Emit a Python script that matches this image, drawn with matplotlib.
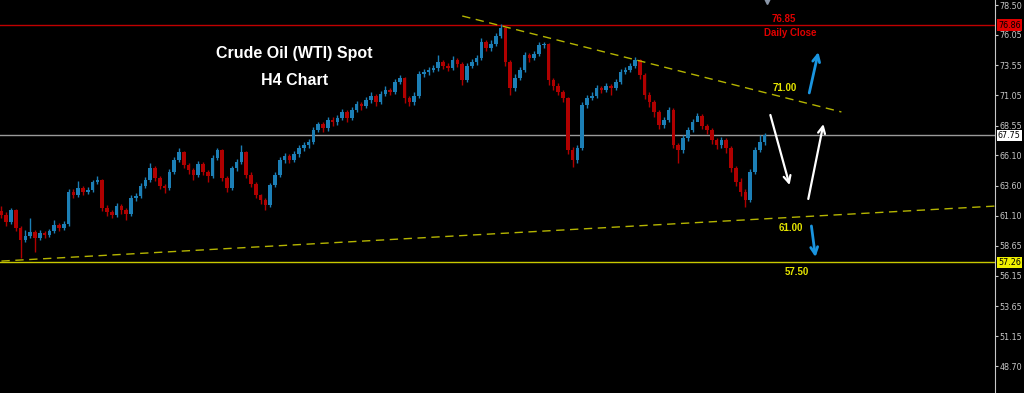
import numpy as np
import matplotlib
matplotlib.use("Agg")
import matplotlib.pyplot as plt
import matplotlib.transforms as mtransforms

# H4 candles (open = previous close)
first_open = 61.50
closes = [61.18, 60.60, 61.59, 60.11, 59.12, 59.45, 59.78, 59.28, 59.69, 59.53,
          59.86, 60.35, 60.11, 60.44, 63.08, 62.83, 63.41, 63.08, 63.25, 63.91,
          64.07, 61.76, 61.43, 61.18, 61.92, 61.59, 61.26, 62.58, 62.75, 63.58,
          64.07, 65.06, 64.24, 63.58, 63.41, 64.73, 65.72, 66.38, 65.31, 64.90,
          64.49, 65.39, 64.73, 64.40, 65.89, 66.55, 64.24, 63.41, 65.06, 65.56,
          66.38, 64.49, 63.74, 62.83, 62.42, 62.01, 63.66, 64.49, 65.72, 66.05,
          65.72, 66.22, 66.71, 66.96, 67.21, 68.20, 68.70, 68.37, 69.03, 68.86,
          69.19, 69.69, 69.19, 69.85, 70.35, 70.18, 70.68, 71.01, 70.51, 71.18,
          71.51, 71.34, 72.17, 72.50, 70.85, 70.51, 71.01, 72.83, 72.99, 73.16,
          73.32, 73.82, 73.49, 73.32, 73.98, 73.65, 72.33, 73.49, 73.82, 74.15,
          75.47, 74.98, 75.31, 75.97, 76.63, 73.82, 71.67, 72.50, 73.16, 74.40,
          74.15, 74.48, 75.22, 75.31, 72.33, 71.84, 71.34, 70.85, 66.55, 65.72,
          66.71, 70.27, 70.85, 71.01, 71.67, 71.51, 71.84, 71.67, 72.17, 72.99,
          73.16, 73.49, 73.98, 72.74, 71.09, 70.51, 69.69, 68.62, 69.03, 69.85,
          66.96, 66.55, 67.54, 68.20, 68.86, 69.36, 68.53, 68.20, 67.38, 66.96,
          67.38, 66.71, 65.06, 63.91, 63.08, 62.42, 64.73, 66.55, 67.20, 67.75]
highs = [61.95, 61.40, 61.75, 61.70, 60.30, 59.95, 60.95, 59.95, 59.90, 59.85,
         60.05, 60.75, 60.50, 60.70, 63.30, 63.35, 63.95, 63.55, 63.45, 64.10,
         64.40, 64.15, 62.00, 61.60, 62.15, 62.05, 61.75, 62.80, 63.00, 63.80,
         64.30, 65.48, 65.20, 64.40, 63.75, 64.95, 65.95, 66.70, 66.50, 65.50,
         65.05, 65.60, 65.55, 64.90, 66.10, 66.72, 66.60, 64.40, 65.25, 65.80,
         66.95, 66.50, 64.70, 63.90, 62.95, 62.55, 63.85, 64.70, 65.95, 66.30,
         66.20, 66.45, 66.95, 67.20, 67.45, 68.45, 68.87, 68.85, 69.25, 69.30,
         69.45, 69.95, 69.85, 70.10, 70.60, 70.55, 70.90, 71.30, 71.15, 71.40,
         71.80, 71.70, 72.40, 72.75, 72.60, 71.00, 71.30, 73.05, 73.25, 73.40,
         73.60, 74.40, 74.00, 73.70, 74.30, 74.15, 73.80, 73.70, 74.05, 74.40,
         75.80, 75.65, 75.60, 76.20, 76.97, 76.75, 74.00, 72.80, 73.40, 74.65,
         74.60, 74.70, 75.45, 75.50, 75.40, 72.50, 72.05, 71.50, 70.90, 66.80,
         67.00, 70.50, 71.10, 71.30, 71.90, 71.85, 72.10, 72.00, 72.40, 73.25,
         73.40, 73.75, 74.25, 74.10, 72.90, 71.30, 70.70, 69.85, 69.30, 70.10,
         70.00, 67.10, 67.80, 68.45, 69.10, 69.60, 69.50, 68.70, 68.40, 67.55,
         67.60, 67.55, 66.90, 65.20, 64.20, 63.30, 64.95, 66.80, 67.80, 67.95]
lows = [60.90, 60.30, 60.45, 59.85, 57.60, 58.95, 59.30, 58.10, 59.10, 59.25,
        59.35, 59.70, 59.85, 59.95, 60.30, 62.55, 62.70, 62.85, 62.90, 63.10,
        63.75, 61.50, 61.10, 60.95, 61.00, 61.30, 60.75, 61.10, 62.35, 62.60,
        63.40, 63.90, 64.00, 63.30, 63.00, 63.25, 64.55, 65.55, 65.05, 64.55,
        64.10, 64.30, 64.45, 63.90, 64.25, 65.70, 64.00, 63.08, 63.25, 64.85,
        65.40, 64.25, 63.45, 62.55, 62.10, 61.60, 61.85, 63.45, 64.30, 65.50,
        65.45, 65.55, 66.00, 66.45, 66.75, 67.05, 68.00, 68.00, 68.15, 68.55,
        68.65, 69.00, 68.85, 69.00, 69.65, 69.85, 70.00, 70.45, 70.20, 70.35,
        71.00, 71.05, 71.15, 72.00, 70.40, 70.20, 70.30, 70.85, 72.60, 72.75,
        72.95, 73.10, 73.20, 73.05, 73.15, 73.40, 71.90, 72.15, 73.30, 73.60,
        74.00, 74.70, 74.75, 75.10, 75.80, 73.50, 71.10, 71.40, 72.30, 73.00,
        73.85, 73.95, 74.30, 75.00, 71.95, 71.50, 71.05, 70.50, 66.20, 65.15,
        65.45, 66.55, 70.00, 70.65, 70.85, 71.25, 71.30, 71.10, 71.50, 72.00,
        72.80, 72.95, 73.30, 72.45, 70.80, 70.10, 69.30, 68.25, 68.40, 68.85,
        66.70, 65.50, 66.30, 67.30, 68.00, 69.10, 68.30, 67.90, 67.05, 66.60,
        66.75, 66.30, 64.75, 63.55, 62.75, 61.85, 62.25, 64.55, 66.35, 66.95]

price_ticks = [78.50, 76.05, 73.55, 71.05, 68.55, 66.10, 63.60, 61.10,
               58.65, 56.15, 53.65, 51.15, 48.70]
daily_close = 76.86
last_price = 67.75
support_low = 57.26

# trendlines / arrows (candle index, price)
resist_line = ([96.0, 175.0], [77.62, 69.69])
support_line = ([0.0, 207.3], [57.37, 61.92])

BG = "black"
UP = "#1c7fb6"
DOWN = "#b00000"
YEL = "#e6e600"

opens = np.array([first_open] + closes[:-1])
closes = np.array(closes)
highs = np.array(highs)
lows = np.array(lows)
idx = np.arange(len(closes))
up = closes >= opens
cols = np.where(up, UP, DOWN)

fig = plt.figure(figsize=(10.24, 3.93), dpi=100, facecolor=BG)
ax = fig.add_axes([0, 0, 995 / 1024, 1])
ax.set_facecolor(BG)

ax.vlines(idx, lows, highs, colors=cols, linewidth=1.0, zorder=3)
ax.bar(idx, np.abs(closes - opens) + 0.02, bottom=np.minimum(opens, closes),
       width=0.75, color=cols, linewidth=0, zorder=3)

ax.axhline(daily_close, color="#c00000", lw=1, zorder=2)
ax.axhline(last_price, color="#9a9a9a", lw=1, zorder=2)
ax.axhline(support_low, color="#c8c800", lw=1, zorder=2)

ax.plot(*resist_line, color="#b4b400", lw=1, ls=(0, (6, 4)), zorder=4)
ax.plot(*support_line, color="#b4b400", lw=1, ls=(0, (6, 4)), zorder=4)

arrows = [((168.3, 71.26), (170.2, 74.64), "#1a95e0", 2.0),
          ((160.2, 69.44), (164.2, 63.65), "white", 1.6),
          ((168.1, 62.50), (171.25, 68.69), "white", 1.6),
          ((168.75, 60.27), (169.6, 57.70), "#1a95e0", 2.0)]
for tail, head, c, lw in arrows:
    ax.annotate("", xy=head, xytext=tail,
                arrowprops=dict(arrowstyle="->,head_length=0.5,head_width=0.25",
                                color=c, lw=lw, shrinkA=0, shrinkB=0), zorder=5)

ax.plot([159.4], [78.85], marker="v", color="#8a96a8", ms=5, zorder=5)

fnt = dict(family="Liberation Sans", fontweight="bold")
ax.text(61.0, 74.56, "Crude Oil (WTI) Spot", color="white", fontsize=11.5,
        ha="center", va="center", **fnt)
ax.text(61.0, 72.33, "H4 Chart", color="white", fontsize=11.5,
        ha="center", va="center", **fnt)
ax.text(163.1, 77.37, "76.85", color="#e00000", fontsize=7, ha="center", va="center", **fnt)
ax.text(164.4, 76.21, "Daily Close", color="#e00000", fontsize=7, ha="center", va="center", **fnt)
ax.text(163.1, 71.67, "71.00", color=YEL, fontsize=7, ha="center", va="center", **fnt)
ax.text(164.4, 60.10, "61.00", color=YEL, fontsize=7, ha="center", va="center", **fnt)
ax.text(165.8, 56.46, "57.50", color=YEL, fontsize=7, ha="center", va="center", **fnt)

ax.set_xlim(-0.3, 207.0)
ax.set_ylim(46.47, 78.94)
ax.set_xticks([])
ax.yaxis.tick_right()
ax.set_yticks(price_ticks)
ax.set_yticklabels(["%.2f" % t for t in price_ticks])
ax.tick_params(axis="y", colors="#c8c8c8", labelsize=5.8, length=2, width=0.8,
               pad=1.5, labelcolor="#c8c8c8")
for s in ["top", "bottom", "left"]:
    ax.spines[s].set_visible(False)
ax.spines["right"].set_color("#c8c8c8")
ax.spines["right"].set_linewidth(0.8)

trans = mtransforms.blended_transform_factory(ax.transAxes, ax.transData)
for val, bg in [(daily_close, "#e00000"), (last_price, "white"), (support_low, "#f0f000")]:
    ax.text(1.003, val, "%.2f" % val, transform=trans, fontsize=5.8, color="black",
            ha="left", va="center", clip_on=False,
            bbox=dict(boxstyle="square,pad=0.15", fc=bg, ec="none"), zorder=6)

fig.savefig("out.png", dpi=100, facecolor=BG)
